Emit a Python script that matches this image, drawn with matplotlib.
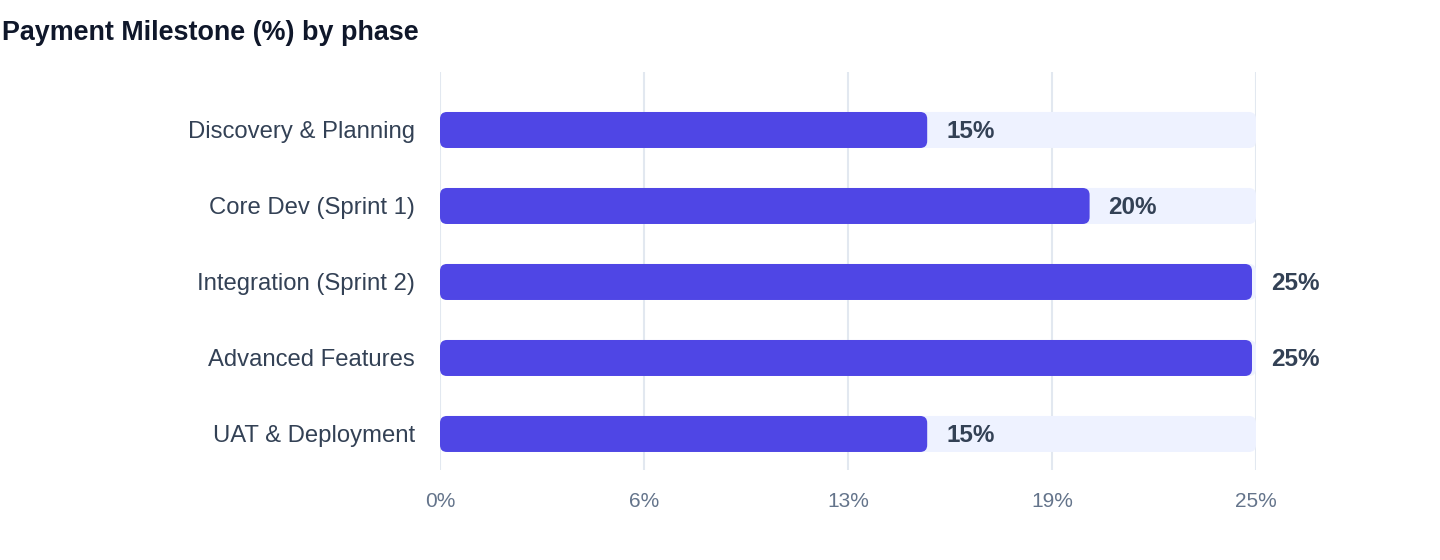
import matplotlib.pyplot as plt
from matplotlib.patches import FancyBboxPatch
from matplotlib.transforms import offset_copy

plt.rcParams['font.family'] = ['Liberation Sans', 'DejaVu Sans']

phases = ['Discovery & Planning', 'Core Dev (Sprint 1)', 'Integration (Sprint 2)',
          'Advanced Features', 'UAT & Deployment']
milestone_pct = [15, 20, 25, 25, 15]
tick_values = [0, 6.25, 12.5, 18.75, 25]
tick_labels = ['0%', '6%', '13%', '19%', '25%']

bar_color = '#4F46E5'
track_color = '#EEF2FF'
grid_color = '#E2E8F0'

fig = plt.figure(figsize=(14.4, 5.6), dpi=100)
ax = fig.add_axes([440 / 1440, 1 - 470 / 560, 816 / 1440, 398 / 560])

xmax = max(tick_values)
ax.set_xlim(0, xmax)
ax.set_ylim(4.474, -0.763)

# px per data unit, used to keep the corner rounding circular
px_x = 816 / xmax
px_y = 76
aspect = px_x / px_y
r = 7 / px_x
h = 36 / px_y
bar_scale = 812 / 816  # filled bars stop a few px short of the track end

for i, v in enumerate(milestone_pct):
    track = FancyBboxPatch((0, i - h / 2), xmax, h,
                           boxstyle=f'round,pad=0,rounding_size={r}',
                           mutation_aspect=aspect, fc=track_color, ec='none',
                           zorder=2, clip_on=False)
    ax.add_patch(track)
    w = v * bar_scale
    bar = FancyBboxPatch((0, i - h / 2), w, h,
                         boxstyle=f'round,pad=0,rounding_size={r}',
                         mutation_aspect=aspect, fc=bar_color, ec='none',
                         zorder=3, clip_on=False)
    ax.add_patch(bar)
    ax.text(w, i, f'{v}%', transform=offset_copy(ax.transData, fig, x=19, y=-2, units='dots'),
            ha='left', va='center', fontsize=17.5, fontweight='bold',
            color='#334155', zorder=4)

ax.set_xticks(tick_values)
ax.set_xticklabels(tick_labels)
ax.set_yticks(range(len(phases)))
ax.set_yticklabels(phases)
ax.tick_params(axis='x', length=0, pad=15.5, labelsize=15, labelcolor='#64748B')
ax.tick_params(axis='y', length=0, pad=18, labelsize=17.2, labelcolor='#334155')
ax.grid(axis='x', color=grid_color, linewidth=1.5, zorder=0)
ax.set_axisbelow(True)
for s in ax.spines.values():
    s.set_visible(False)

fig.text(2 / 1440, 1 - 33 / 560, 'Payment Milestone (%) by phase', ha='left', va='center',
         fontsize=19.4, fontweight='bold', color='#0F172A')

fig.savefig('out.png', dpi=100, facecolor='white')
